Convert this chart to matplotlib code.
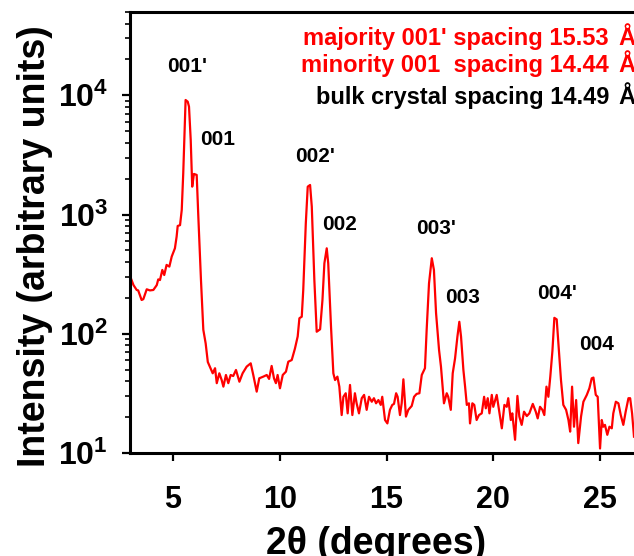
import numpy as np
import matplotlib
matplotlib.use('Agg')
from matplotlib import pyplot as plt, ticker

plt.rcParams['font.family'] = 'Liberation Sans'
plt.rcParams['font.weight'] = 'bold'
plt.rcParams['mathtext.fontset'] = 'custom'
plt.rcParams['mathtext.bf'] = 'Liberation Sans:bold'
plt.rcParams['mathtext.rm'] = 'Liberation Sans:bold'

RED = '#ff0000'

# XRD scan, 2theta (deg) vs counts
two_theta = [
    3.00, 3.15, 3.30, 3.37, 3.53, 3.61, 3.77, 3.92, 4.08, 4.24, 4.31, 4.39,
    4.50, 4.59, 4.70, 4.83, 4.94, 5.09, 5.17, 5.22, 5.33, 5.41, 5.48, 5.53,
    5.59, 5.69, 5.75, 5.83, 5.90, 5.98, 6.11, 6.18, 6.31, 6.42, 6.53, 6.63,
    6.78, 6.86, 6.97, 7.05, 7.17, 7.28, 7.36, 7.48, 7.59, 7.70, 7.82, 7.95,
    8.11, 8.26, 8.45, 8.64, 8.76, 8.92, 9.04, 9.23, 9.39, 9.50, 9.62, 9.73,
    9.82, 9.90, 10.01, 10.14, 10.29, 10.40, 10.56, 10.71, 10.84, 10.92, 11.03,
    11.10, 11.22, 11.31, 11.42, 11.50, 11.62, 11.73, 11.89, 12.00, 12.09,
    12.20, 12.27, 12.40, 12.51, 12.59, 12.70, 12.79, 12.90, 12.98, 13.09,
    13.18, 13.29, 13.40, 13.52, 13.60, 13.71, 13.84, 13.95, 14.07, 14.18,
    14.31, 14.41, 14.51, 14.62, 14.73, 14.80, 14.93, 15.04, 15.16, 15.27,
    15.35, 15.45, 15.52, 15.63, 15.71, 15.79, 15.91, 16.02, 16.18, 16.29,
    16.41, 16.54, 16.65, 16.80, 16.88, 16.99, 17.12, 17.22, 17.32, 17.46,
    17.55, 17.69, 17.82, 17.89, 18.01, 18.10, 18.21, 18.32, 18.41, 18.49,
    18.60, 18.68, 18.76, 18.86, 18.91, 19.02, 19.11, 19.22, 19.33, 19.46,
    19.57, 19.65, 19.74, 19.82, 19.93, 20.00, 20.16, 20.28, 20.40, 20.52,
    20.63, 20.70, 20.82, 20.89, 21.02, 21.13, 21.22, 21.33, 21.44, 21.57,
    21.69, 21.85, 21.99, 22.08, 22.19, 22.30, 22.39, 22.49, 22.58, 22.67,
    22.77, 22.86, 22.97, 23.05, 23.17, 23.28, 23.41, 23.52, 23.60, 23.69,
    23.78, 23.88, 23.98, 24.11, 24.22, 24.38, 24.50, 24.61, 24.69, 24.80,
    24.89, 25.00, 25.08, 25.15, 25.23, 25.34, 25.44, 25.55, 25.62, 25.74,
    25.86, 25.97, 26.09, 26.20, 26.33, 26.41, 26.50, 26.59,
]
intensity = [
    301, 256, 233, 231, 192, 195, 236, 231, 233, 256, 286, 282,
    343, 311, 378, 366, 444, 521, 653, 802, 815, 1094, 2220, 4230,
    9140, 8850, 8040, 4230, 1714, 2192, 2150, 1026, 283, 108, 83, 58,
    50.4, 46.6, 51.4, 38.5, 46.6, 40.9, 36.0, 45.1, 38.5, 45.1, 44.2, 49.7,
    39.6, 46.6, 53.0, 56.5, 45.1, 32.7, 42.3, 43.7, 45.1, 41.8, 53.7, 42.3,
    38.5, 45.1, 34.9, 45.1, 48.1, 58.3, 60.2, 75, 95, 135, 139,
    233, 845, 1714, 1770, 1165, 283, 104, 109, 192, 390,
    521, 390, 115, 46.6, 40.9, 43.7, 36.0, 20.8, 29.6, 31.7,
    21.5, 37.2, 20.8, 31.7, 26.1, 21.5, 28.8, 30.7, 23.0, 29.6,
    26.9, 28.8, 26.1, 27.8, 25.3, 29.6, 18.9, 17.7, 23.0, 25.3,
    25.8, 31.7, 29.6, 20.8, 26.1, 41.5, 20.2, 23.0, 24.8, 29.6,
    31.3, 31.7, 45.1, 51.4, 108, 265, 430, 343, 149, 73.1,
    53.0, 26.1, 31.7, 29.6, 23.0, 46.6, 62.2, 94.6, 126, 94.6,
    49.7, 36.0, 25.3, 26.1, 17.7, 26.1, 25.3, 18.9, 20.8, 21.5,
    29.6, 23.7, 28.8, 21.5, 30.7, 24.4, 30.7, 22.2, 16.1, 25.3,
    24.4, 28.8, 18.9, 21.5, 12.9, 30.1, 20.2, 17.2, 22.2, 20.4,
    21.5, 25.8, 22.2, 19.5, 24.4, 23.0, 20.8, 36.0, 29.6, 43.7,
    72, 136, 132, 83.2, 40.9, 25.3, 23.0, 18.9, 15.1, 36.0,
    16.6, 27.8, 12.1, 20.2, 26.9, 30.7, 34.9, 42.3, 42.9, 30.7,
    29.6, 10.9, 18.9, 16.6, 17.2, 14.2, 16.6, 16.1, 21.5, 26.9,
    26.1, 20.8, 17.2, 22.2, 28.8, 28.8, 21.5, 13.7,
]

# reflection labels and where they sit
peak_names = ["001'", '001', "002'", '002', "003'", '003', "004'", '004']
peak_x = [5.66, 7.11, 11.65, 12.82, 17.32, 18.58, 22.99, 24.86]
peak_y = [17300, 4300, 3040, 818, 757, 200, 216, 80.5]

spacing_text = ["majority 001' spacing 15.53", 'minority 001  spacing 14.44',
                'bulk crystal spacing 14.49']
spacing_colors = [RED, RED, 'black']


def log_label(val, pos):
    return r'$\mathbf{10^{%d}}$' % round(np.log10(val))


fig = plt.figure(figsize=(6.34, 5.56), dpi=100)
ax = fig.add_axes([0.2055, 0.1853, 0.7945, 0.7931])

ax.plot(two_theta, intensity, color=RED, lw=1.6)
ax.set_yscale('log')
ax.set_xlim(3, 26.59)
ax.set_ylim(10, 5.0e4)

for name, x, y in zip(peak_names, peak_x, peak_y):
    ax.text(x, y, name, ha='center', va='center', fontsize=15,
            fontweight='bold')

baselines = [0.9191, 0.8705, 0.8129]
for text, color, yb in zip(spacing_text, spacing_colors, baselines):
    fig.text(0.9606, yb, text, ha='right', va='baseline', fontsize=17,
             color=color, fontweight='bold')
    fig.text(0.9748, yb, '\u00c5', ha='left', va='baseline', fontsize=17,
             color=color, fontweight='bold')

ax.spines['right'].set_visible(False)
for side in ['left', 'bottom', 'top']:
    ax.spines[side].set_linewidth(2.2)

ax.set_xticks([5, 10, 15, 20, 25])
ax.xaxis.set_minor_locator(ticker.NullLocator())
ax.yaxis.set_major_locator(ticker.LogLocator(base=10, numticks=10))
ax.yaxis.set_minor_locator(ticker.LogLocator(base=10, subs=np.arange(2, 10),
                                             numticks=10))
ax.yaxis.set_major_formatter(ticker.FuncFormatter(log_label))
ax.yaxis.set_minor_formatter(ticker.NullFormatter())

ax.tick_params(axis='x', which='major', direction='out', length=6, width=1.6,
               labelsize=22, pad=17)
ax.tick_params(axis='y', which='major', direction='out', length=6, width=1.6,
               labelsize=23, pad=10)
ax.tick_params(axis='y', which='minor', direction='out', length=3.5, width=1.2)

ax.set_xlabel('2\u03b8 (degrees)', fontsize=27, fontweight='bold')
ax.set_ylabel('Intensity (arbitrary units)', fontsize=27, fontweight='bold')
ax.xaxis.set_label_coords(0.488, -0.165)
ax.yaxis.set_label_coords(-0.153, 0.468)

fig.savefig('out.png', dpi=100)
